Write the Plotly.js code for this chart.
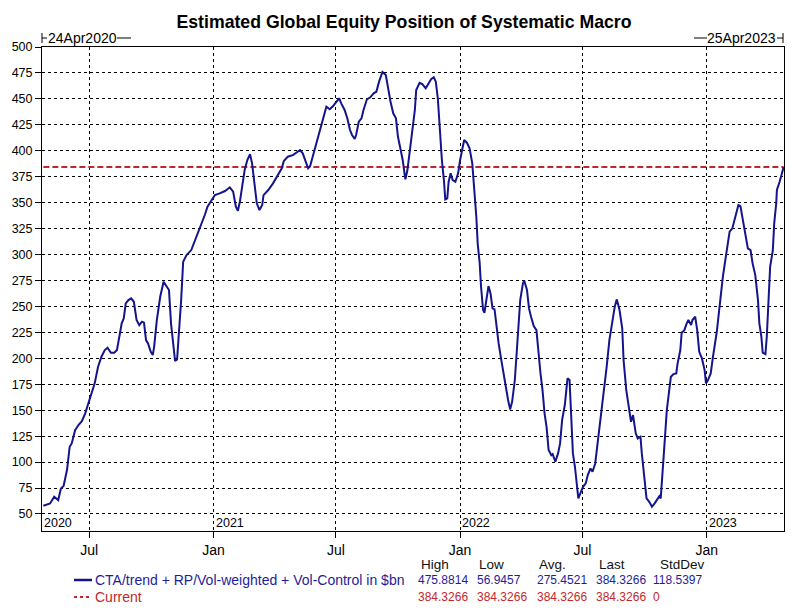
<!DOCTYPE html>
<html>
<head>
<meta charset="utf-8">
<script src="https://cdn.plot.ly/plotly-3.0.1.min.js"></script>
<style>html,body{margin:0;padding:0;background:#fff;}#chart{width:808px;height:612px;}</style>
</head>
<body>
<div id="chart"></div>
<script>
// ---------------- data ----------------
const seriesName = 'CTA/trend + RP/Vol-weighted + Vol-Control in $bn';
const currentName = 'Current';
const dates = [
'2020-04-24','2020-05-04','2020-05-10','2020-05-13','2020-05-16','2020-05-20','2020-05-24','2020-05-29','2020-06-02','2020-06-05',
'2020-06-10','2020-06-15','2020-06-20','2020-06-25','2020-06-30','2020-07-05','2020-07-09','2020-07-14','2020-07-19','2020-07-24',
'2020-07-28','2020-08-02','2020-08-07','2020-08-11','2020-08-14','2020-08-18','2020-08-21','2020-08-24','2020-08-28','2020-09-01',
'2020-09-05','2020-09-09','2020-09-13','2020-09-17','2020-09-20','2020-09-23','2020-09-26','2020-09-30','2020-10-03','2020-10-05',
'2020-10-09','2020-10-14','2020-10-19','2020-10-24','2020-10-27','2020-10-30','2020-11-02','2020-11-05','2020-11-08','2020-11-11',
'2020-11-14','2020-11-17','2020-11-22','2020-11-29','2020-12-04','2020-12-09','2020-12-14','2020-12-19','2020-12-23','2020-12-28',
'2021-01-03','2021-01-10','2021-01-18','2021-01-25','2021-01-30','2021-02-03','2021-02-06','2021-02-09','2021-02-12','2021-02-16',
'2021-02-20','2021-02-24','2021-02-27','2021-03-03','2021-03-06','2021-03-10','2021-03-14','2021-03-16','2021-03-23','2021-03-30',
'2021-04-06','2021-04-12','2021-04-15','2021-04-21','2021-04-29','2021-05-09','2021-05-13','2021-05-17','2021-05-21','2021-05-24',
'2021-05-27','2021-05-31','2021-06-05','2021-06-10','2021-06-14','2021-06-17','2021-06-22','2021-06-27','2021-07-02','2021-07-06',
'2021-07-09','2021-07-14','2021-07-18','2021-07-22','2021-07-25','2021-07-29','2021-07-31','2021-08-04','2021-08-08','2021-08-11',
'2021-08-16','2021-08-21','2021-08-26','2021-08-30','2021-09-03','2021-09-08','2021-09-13','2021-09-16','2021-09-20','2021-09-24',
'2021-09-28','2021-10-01','2021-10-05','2021-10-08','2021-10-11','2021-10-12','2021-10-15','2021-10-18','2021-10-22','2021-10-26',
'2021-10-28','2021-11-02','2021-11-06','2021-11-11','2021-11-14','2021-11-19','2021-11-23','2021-11-26','2021-11-29','2021-12-01',
'2021-12-03','2021-12-05','2021-12-08','2021-12-10','2021-12-13','2021-12-15','2021-12-18','2021-12-21','2021-12-25','2021-12-29',
'2022-01-01','2022-01-04','2022-01-07','2022-01-11','2022-01-15','2022-01-19','2022-01-22','2022-01-25','2022-01-27','2022-01-30',
'2022-02-01','2022-02-04','2022-02-06','2022-02-09','2022-02-12','2022-02-15','2022-02-18','2022-02-21','2022-02-24','2022-02-27',
'2022-03-03','2022-03-06','2022-03-09','2022-03-13','2022-03-16','2022-03-19','2022-03-23','2022-03-26','2022-03-29','2022-03-31',
'2022-04-04','2022-04-06','2022-04-10','2022-04-13','2022-04-16','2022-04-20','2022-04-24','2022-04-27','2022-04-30','2022-05-03',
'2022-05-06','2022-05-09','2022-05-12','2022-05-16','2022-05-18','2022-05-22','2022-05-26','2022-05-29','2022-06-01','2022-06-05',
'2022-06-07','2022-06-09','2022-06-12','2022-06-14','2022-06-17','2022-06-20','2022-06-23','2022-06-25','2022-06-28','2022-07-02',
'2022-07-06','2022-07-09','2022-07-13','2022-07-16','2022-07-20','2022-07-23','2022-07-26','2022-07-30','2022-08-03','2022-08-06',
'2022-08-10','2022-08-14','2022-08-18','2022-08-21','2022-08-25','2022-08-29','2022-08-31','2022-09-04','2022-09-09','2022-09-11',
'2022-09-14','2022-09-18','2022-09-21','2022-09-25','2022-09-27','2022-10-01','2022-10-04','2022-10-08','2022-10-12','2022-10-16',
'2022-10-20','2022-10-23','2022-10-25','2022-10-27','2022-10-29','2022-10-31','2022-11-03','2022-11-06','2022-11-09','2022-11-13',
'2022-11-17','2022-11-19','2022-11-23','2022-11-25','2022-11-29','2022-12-02','2022-12-05','2022-12-09','2022-12-11','2022-12-15',
'2022-12-18','2022-12-21','2022-12-25','2022-12-29','2022-12-31','2023-01-03','2023-01-07','2023-01-10','2023-01-13','2023-01-16',
'2023-01-19','2023-01-22','2023-01-25','2023-01-29','2023-02-01','2023-02-04','2023-02-08','2023-02-11','2023-02-14','2023-02-17',
'2023-02-20','2023-02-23','2023-02-27','2023-03-03','2023-03-07','2023-03-10','2023-03-14','2023-03-18','2023-03-20','2023-03-23',
'2023-03-25','2023-03-29','2023-03-31','2023-04-02','2023-04-05','2023-04-09','2023-04-11','2023-04-14','2023-04-15','2023-04-19',
'2023-04-23','2023-04-25'
];
const equityPosition = [
58.0,60.2,66.6,65.0,63.4,74.6,76.9,92.3,114.8,118.0,
130.8,135.7,139.5,146.9,156.6,166.2,175.9,191.9,201.5,208.0,
210.2,205.4,205.4,208.0,217.6,233.7,238.5,253.0,256.1,257.8,
254.5,236.9,232.0,235.3,234.3,217.6,214.4,206.3,203.1,211.1,
236.9,259.3,273.8,269.0,265.8,233.7,214.4,197.5,199.0,224.0,
256.1,293.1,299.5,304.3,312.4,320.4,330.1,338.1,346.1,351.1,
357.3,359.0,361.2,364.8,360.5,346.1,342.2,351.1,363.8,381.4,
391.1,396.6,387.9,362.2,349.4,342.9,347.7,357.3,362.2,368.6,
376.6,383.1,390.1,394.3,396.0,400.7,397.5,389.5,383.1,385.3,
392.7,400.7,413.5,426.5,436.1,442.5,440.0,443.1,447.3,450.6,
445.7,439.3,431.3,420.0,415.2,411.3,415.2,428.0,431.3,439.3,
449.6,451.5,455.4,456.9,466.6,475.8814,473.0,461.7,447.3,436.1,
431.3,413.5,402.4,391.1,376.6,372.5,381.4,397.5,415.2,439.3,
458.6,465.5,464.3,460.2,463.4,468.9,470.8,466.6,450.6,426.5,
410.4,391.1,371.8,353.2,354.2,370.2,378.3,371.8,370.2,378.3,
391.1,400.7,410.4,407.8,402.4,387.9,365.4,336.4,310.8,291.5,
269.0,246.5,243.9,259.3,269.6,262.6,248.1,247.2,230.4,214.4,
198.3,185.5,172.6,159.8,150.8,158.1,179.1,204.8,236.9,256.1,
272.2,274.7,265.8,248.1,240.1,231.1,227.2,204.8,185.5,169.4,
147.0,134.0,111.6,106.7,107.7,100.3,108.4,118.0,140.5,155.0,
172.6,180.7,179.1,147.0,108.4,95.5,73.0,65.0,69.8,76.2,
79.5,87.5,93.9,90.7,98.7,114.7,127.7,153.3,172.6,191.9,
217.6,233.7,250.0,256.8,246.5,228.9,198.3,169.4,143.7,138.9,
145.3,127.7,122.8,124.4,108.4,85.8,65.0,61.7,56.9457,60.2,
65.0,67.2,65.0,87.5,105.1,121.2,150.1,166.2,182.2,184.8,
185.5,195.1,208.0,224.6,227.2,233.0,236.9,232.0,236.9,240.1,
227.2,206.3,199.9,188.7,175.9,179.1,185.5,199.9,211.1,225.6,
243.3,262.6,278.6,296.3,307.5,322.0,325.2,333.3,339.7,347.7,
346.7,336.4,322.0,306.0,304.3,291.5,280.2,256.1,233.7,220.8,
205.4,204.1,220.8,243.3,288.3,304.3,330.1,349.4,362.2,370.2,
381.4,384.3266
];
const currentValue = 384.3266;
const statHeaders = ['High', 'Low', 'Avg.', 'Last', 'StdDev'];
const seriesStats = ['475.8814', '56.9457', '275.4521', '384.3266', '118.5397'];
const currentStats = ['384.3266', '384.3266', '384.3266', '384.3266', '0'];
const monthTickDates = ['2020-07-01','2021-01-01','2021-07-01','2022-01-01','2022-07-01','2023-01-01'];
const monthTickLabels = ['Jul','Jan','Jul','Jan','Jul','Jan'];
const yearLabels = ['2020','2021','2022','2023'];
const yearLabelDates = ['2020-04-22','2021-01-01','2022-01-01','2023-01-01'];
const yTickValues = [50,75,100,125,150,175,200,225,250,275,300,325,350,375,400,425,450,475,500];
const startLabel = '24Apr2020';
const endLabel = '25Apr2023';

// ---------------- style ----------------
const FONT = '"Liberation Sans", Arial, sans-serif';
const BLUE = '#14148c';
const BLUE_TXT = '#1e1e98';
const RED = '#c0282d';
const PL = 42, PR = 784, PT = 47, PB = 531;
const px = p => (p - PL) / (PR - PL);
const py = p => (PB - p) / (PB - PT);

const traces = [
  {x: [dates[0], dates[dates.length - 1]], y: [currentValue, currentValue], type: 'scatter', mode: 'lines',
   name: currentName, line: {color: RED, width: 2, dash: '6px,3px'}, hoverinfo: 'skip'},
  {x: dates, y: equityPosition, type: 'scatter', mode: 'lines', name: seriesName,
   line: {color: BLUE, width: 2}}
];

const shapes = [];
const annotations = [];
const line = (x0, y0, x1, y1, color, dash) => shapes.push({type: 'line', xref: 'paper', yref: 'paper',
  x0: px(x0), y0: py(y0), x1: px(x1), y1: py(y1), line: {color: color, width: dash ? 2 : (color === 'black' ? 1 : 2.5), dash: dash || 'solid'}});
const text = (t, x, y, anchor, size, color) => annotations.push({text: t, x: x, y: py(y), xref: 'paper', yref: 'paper',
  xanchor: anchor, yanchor: 'middle', showarrow: false, borderpad: 0, font: {family: FONT, size: size, color: color}});

// top date markers
line(42, 33, 42, 43, 'black'); line(42, 38, 47, 38, 'black'); line(117, 38, 131, 38, 'black');
text(startLabel, px(47), 38, 'left', 14, 'black');
line(694, 38, 707, 38, 'black'); line(777, 38, 783, 38, 'black'); line(783, 33, 783, 43, 'black');
text(endLabel, px(777), 38, 'right', 14, 'black');

// year labels inside plot
yearLabels.forEach((t, i) => annotations.push({text: t, x: yearLabelDates[i], xref: 'x', y: py(523), yref: 'paper',
  xanchor: 'left', yanchor: 'middle', xshift: 1, borderpad: 0, showarrow: false, font: {family: FONT, size: 12.5, color: 'black'}}));

// legend / stats table
line(74, 580, 92, 580, BLUE);
line(74, 597, 92, 597, RED, '3px,3px');
text(seriesName, px(94), 580, 'left', 14, BLUE_TXT);
text(currentName, px(94), 597, 'left', 14, RED);
const headerX = [420, 478, 538, 598, 659];
const valueX = [417, 476, 535.5, 595, 651.6];
statHeaders.forEach((h, i) => text(h, px(headerX[i]), 564, 'left', 13.5, '#111'));
seriesStats.forEach((v, i) => text(v, px(valueX[i]), 580, 'left', 12, BLUE_TXT));
currentStats.forEach((v, i) => text(v, px(valueX[i]), 597, 'left', 12, RED));

const layout = {
  width: 808, height: 612,
  margin: {l: PL, r: 808 - PR, t: PT, b: 612 - PB, pad: 0},
  paper_bgcolor: 'white', plot_bgcolor: 'white',
  showlegend: false,
  title: {text: '<b>Estimated Global Equity Position of Systematic Macro</b>', x: 0.5, xanchor: 'center',
          y: 1 - 22 / 612, yanchor: 'middle', font: {family: FONT, size: 17.7, color: 'black'}},
  xaxis: {type: 'date', range: ['2020-04-22', '2023-04-25 12:00'], tickmode: 'array', tickvals: monthTickDates, ticktext: monthTickLabels,
          ticks: 'outside', ticklen: 6, tickwidth: 1, tickcolor: 'black', showgrid: true, gridcolor: 'black', gridwidth: 1, griddash: '3px,3px',
          showline: true, linecolor: 'black', linewidth: 1, mirror: true, zeroline: false,
          tickfont: {family: FONT, size: 14, color: 'black'}},
  yaxis: {range: [33.6, 500], tickmode: 'array', tickvals: yTickValues, ticks: 'outside', ticklen: 6, tickwidth: 1, tickcolor: 'black',
          showgrid: true, gridcolor: 'black', gridwidth: 1, griddash: '3px,3px',
          showline: true, linecolor: 'black', linewidth: 1, mirror: true, zeroline: false,
          tickfont: {family: FONT, size: 12.5, color: 'black'}},
  shapes: shapes,
  annotations: annotations
};

Plotly.newPlot('chart', traces, layout, {displayModeBar: false, staticPlot: true});
</script>
</body>
</html>
